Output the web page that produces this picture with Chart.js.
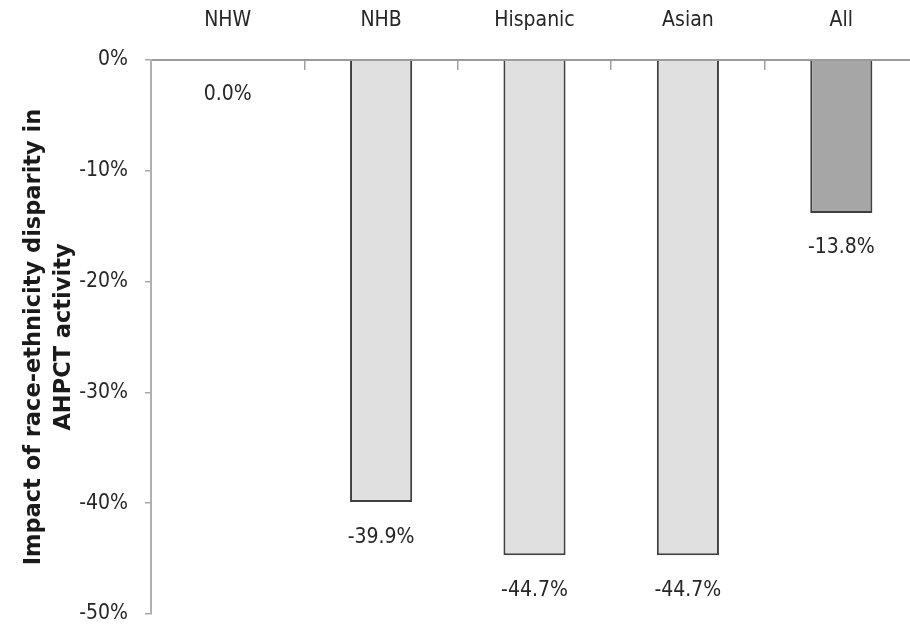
<!DOCTYPE html>
<html>
<head>
<meta charset="utf-8">
<script src="https://cdn.jsdelivr.net/npm/chart.js@4/dist/chart.umd.min.js"></script>
<style>
  html, body { margin: 0; padding: 0; background: #fff; overflow: hidden; }
  #wrap { width: 920px; height: 627px; }
</style>
</head>
<body>
<div id="wrap"><canvas id="c" width="920" height="627"></canvas></div>
<script>
// Race-ethnicity groups and their estimated impact on AHPCT activity (%)
const groups = ['NHW', 'NHB', 'Hispanic', 'Asian', 'All'];
const impact = [0.0, -39.9, -44.7, -44.7, -13.8];
const barFills = ['#e0e0e0', '#e0e0e0', '#e0e0e0', '#e0e0e0', '#a6a6a6'];
const yTicks = [0, -10, -20, -30, -40, -50];

const labelFont = "'DejaVu Sans Condensed', 'DejaVu Sans', sans-serif";
const labelSize = 21;
const textColor = '#262626';

// Writes each bar's value just past the end of the bar
const valueLabels = {
  id: 'valueLabels',
  afterDatasetsDraw(chart) {
    const ctx = chart.ctx;
    const meta = chart.getDatasetMeta(0);
    ctx.save();
    ctx.font = labelSize + 'px ' + labelFont;
    ctx.fillStyle = textColor;
    ctx.textAlign = 'center';
    ctx.textBaseline = 'middle';
    meta.data.forEach((bar, i) => {
      ctx.fillText(impact[i].toFixed(1) + '%', bar.x, bar.y + 35);
    });
    ctx.restore();
  }
};

new Chart(document.getElementById('c'), {
  type: 'bar',
  data: {
    labels: groups,
    datasets: [{
      data: impact,
      backgroundColor: barFills,
      borderColor: '#404040',
      borderWidth: (c) => (impact[c.dataIndex] === 0 ? 0 : 2),
      categoryPercentage: 1.0,
      barPercentage: 0.405
    }]
  },
  options: {
    responsive: false,
    animation: false,
    layout: { padding: { left: 0, right: 2, top: 0, bottom: 13 } },
    plugins: {
      legend: { display: false },
      tooltip: { enabled: false }
    },
    scales: {
      x: {
        position: 'top',
        grid: {
          display: true,
          drawOnChartArea: false,
          drawTicks: true,
          tickLength: -10,
          color: '#a0a0a0',
          lineWidth: 1.5
        },
        border: { display: true, color: '#9a9a9a', width: 2 },
        ticks: {
          color: textColor,
          font: { family: labelFont, size: labelSize, lineHeight: 1 },
          padding: 39
        },
        afterFit(scale) { scale.height = 60; }
      },
      y: {
        min: -50,
        max: 0,
        afterBuildTicks(scale) { scale.ticks = yTicks.map(v => ({ value: v })); },
        grid: {
          display: true,
          drawOnChartArea: false,
          drawTicks: true,
          tickLength: 6,
          color: '#a8a8a8',
          lineWidth: 1.5
        },
        border: { display: true, color: '#b0b0b0', width: 2 },
        ticks: {
          color: textColor,
          font: { family: labelFont, size: labelSize, lineHeight: 1 },
          padding: 17,
          callback: (v) => v + '%'
        },
        title: {
          display: true,
          text: ['Impact of race-ethnicity disparity in', 'AHPCT activity'],
          color: '#1a1a1a',
          font: { family: "'DejaVu Sans', Verdana, sans-serif", size: 22.5, weight: 'bold', lineHeight: 1.3 },
          padding: { top: 20, bottom: 0 }
        },
        afterFit(scale) {
          scale.width = 151;
          // the outer end labels may overhang the plot edges
          scale.paddingTop = 0;
          scale.paddingBottom = 0;
        }
      }
    }
  },
  plugins: [valueLabels]
});
</script>
</body>
</html>
